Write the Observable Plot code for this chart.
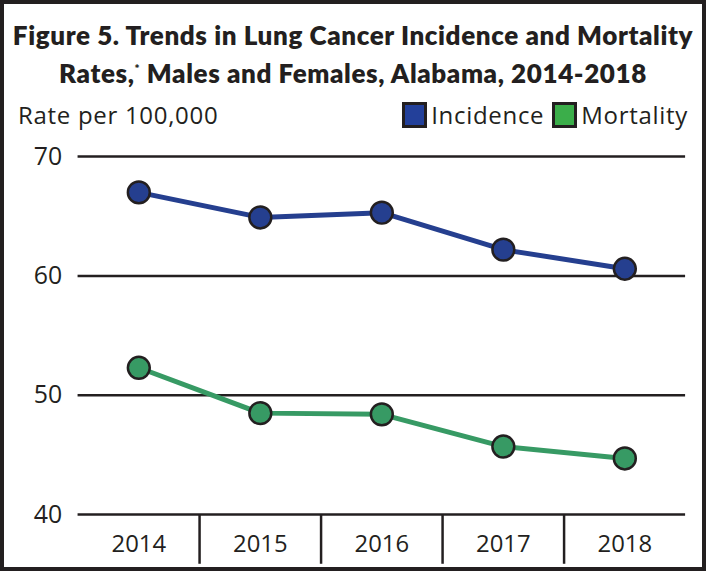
<!DOCTYPE html>
<html>
<head>
<meta charset="utf-8">
<script src="https://cdn.jsdelivr.net/npm/d3@7"></script>
<script src="https://cdn.jsdelivr.net/npm/@observablehq/plot@0.6"></script>
<style>
  html, body { margin: 0; padding: 0; background: #fff; }
  #wrap { position: relative; width: 706px; height: 571px; box-sizing: border-box; border: 4px solid #231f20; overflow: hidden; font-family: "Open Sans", sans-serif; color: #231f20; }
  #title { position: absolute; left: 0; right: 0; top: 15px; text-align: center; font-family: Lato, sans-serif; font-weight: 800; font-size: 26px; line-height: 33px; letter-spacing: 0.6px; white-space: nowrap; }
  #ylab { position: absolute; left: 14px; top: 96px; font-size: 24px; line-height: 30px; letter-spacing: 0.7px; }
  #legend { position: absolute; right: 14px; top: 96px; font-size: 24px; line-height: 30px; letter-spacing: 0.7px; display: flex; align-items: center; }
  #legend .sw { display: inline-block; width: 19px; height: 20px; border: 3px solid #231f20; margin-right: 4px; }
  #legend .item { display: flex; align-items: center; margin-left: 8px; }
  #chart { position: absolute; left: -4px; top: -4px; }
</style>
</head>
<body>
<div id="wrap">
  <div id="chart"></div>
  <div id="title">Figure 5. Trends in Lung Cancer Incidence and Mortality<br>Rates,<sup style="font-size:12px">*</sup> Males and Females, Alabama, 2014-2018</div>
  <div id="ylab">Rate per 100,000</div>
  <div id="legend"></div>
</div>
<script>
const years = [2014, 2015, 2016, 2017, 2018];
const incidence = [67.0, 64.9, 65.3, 62.2, 60.6];
const mortality = [52.3, 48.5, 48.4, 45.7, 44.7];
const seriesNames = ["Incidence", "Mortality"];
const lineColors = ["#253f8f", "#379a64"];
const swatchColors = ["#23409a", "#3bae4a"];
const yTicks = [40, 50, 60, 70];

const rows = [];
years.forEach((yr, i) => {
  rows.push({year: yr, value: incidence[i], series: seriesNames[0]});
  rows.push({year: yr, value: mortality[i], series: seriesNames[1]});
});
const boundaries = years.slice(1).map(y => y - 0.5);

const plot = Plot.plot({
  width: 706,
  height: 571,
  marginTop: 157,
  marginBottom: 54,
  marginLeft: 78,
  marginRight: 17,
  style: {fontFamily: "'Open Sans', sans-serif", color: "#231f20", background: "transparent"},
  x: {domain: [years[0] - 0.5, years[years.length - 1] + 0.5]},
  y: {domain: [40, 70]},
  color: {domain: seriesNames, range: lineColors},
  marks: [
    Plot.gridY(yTicks, {stroke: "#231f20", strokeOpacity: 1, strokeWidth: 2.5}),
    Plot.axisY(yTicks, {tickSize: 0, tickPadding: 16, fontSize: 25, label: null, fill: "#231f20"}),
    Plot.axisX(boundaries, {tickSize: 50, strokeWidth: 2.5, stroke: "#231f20", text: null, label: null}),
    Plot.axisX(years, {tickSize: 0, tickPadding: 21, fontSize: 24, tickFormat: d => String(d), label: null, fill: "#231f20"}),
    Plot.line(rows, {x: "year", y: "value", z: "series", stroke: "series", strokeWidth: 5}),
    Plot.dot(rows, {x: "year", y: "value", fill: "series", r: 11, stroke: "#231f20", strokeWidth: 2.5})
  ]
});
document.getElementById("chart").appendChild(plot);

const legend = document.getElementById("legend");
seriesNames.forEach((name, i) => {
  const item = document.createElement("span");
  item.className = "item";
  const sw = document.createElement("span");
  sw.className = "sw";
  sw.style.background = swatchColors[i];
  item.appendChild(sw);
  item.appendChild(document.createTextNode(name));
  legend.appendChild(item);
});
</script>
</body>
</html>
